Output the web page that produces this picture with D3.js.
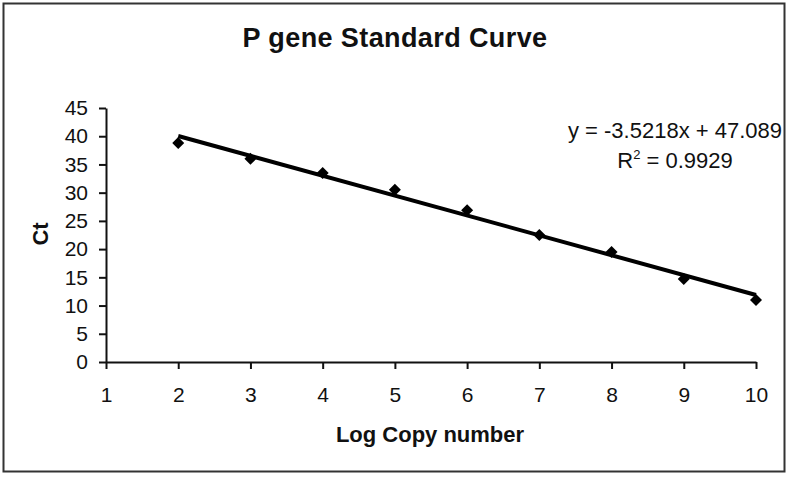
<!DOCTYPE html>
<html lang="en">
<head>
  <meta charset="UTF-8" />
  <title>P gene Standard Curve</title>
  <style>
    body { margin: 0; background: #fff; }
    svg { display: block; }
    text { font-family: "Liberation Sans", Arial, sans-serif; fill: #111; }
  </style>
  <script src="https://cdn.jsdelivr.net/npm/d3@7"></script>
</head>
<body>
  <script>
    const logCopy = [2, 3, 4, 5, 6, 7, 8, 9, 10];
    const ct = [38.8, 36.0, 33.5, 30.5, 26.9, 22.5, 19.5, 14.7, 11.0];
    const slope = -3.5218;
    const intercept = 47.089;
    const xTicks = [1, 2, 3, 4, 5, 6, 7, 8, 9, 10];
    const yTicks = [0, 5, 10, 15, 20, 25, 30, 35, 40, 45];

    const W = 789, H = 482;
    const svg = d3.select("body").append("svg")
      .attr("width", W).attr("height", H);

    // outer frame
    svg.append("rect")
      .attr("x", 3.5).attr("y", 3.5)
      .attr("width", 781).attr("height", 468)
      .attr("fill", "none").attr("stroke", "#333").attr("stroke-width", 2);

    const x = d3.scaleLinear().domain([1, 10]).range([106, 756]);
    const y = d3.scaleLinear().domain([0, 45]).range([362, 108]);

    const xAxis = svg.append("g")
      .attr("transform", `translate(0,${y(0)})`)
      .call(d3.axisBottom(x).tickValues(xTicks).tickSize(7).tickSizeOuter(0).tickPadding(18));
    const yAxis = svg.append("g")
      .attr("transform", `translate(${x(1)},0)`)
      .call(d3.axisLeft(y).tickValues(yTicks).tickSize(7).tickSizeOuter(0).tickPadding(11));

    [xAxis, yAxis].forEach(g => {
      g.select(".domain").attr("stroke", "#111").attr("stroke-width", 2);
      g.selectAll(".tick line").attr("stroke", "#111").attr("stroke-width", 2);
      g.selectAll(".tick text")
        .attr("font-size", 21).attr("fill", "#222");
    });

    // trend line
    const fit = d3.line().x(d => x(d)).y(d => y(slope * d + intercept));
    svg.append("path")
      .attr("d", fit([logCopy[0], logCopy[logCopy.length - 1]]))
      .attr("stroke", "#000").attr("stroke-width", 4).attr("fill", "none");

    // data points
    const diamond = d3.symbol().type(d3.symbolSquare).size(72);
    svg.selectAll(".pt").data(logCopy).enter().append("path")
      .attr("class", "pt")
      .attr("d", diamond)
      .attr("transform", (d, i) => `translate(${x(d)},${y(ct[i])}) rotate(45)`)
      .attr("fill", "#000");

    // title
    svg.append("text")
      .attr("x", 395).attr("y", 47)
      .attr("text-anchor", "middle")
      .attr("font-size", 27).attr("font-weight", "bold")
      .attr("letter-spacing", 0.4)
      .text("P gene Standard Curve");

    // axis titles
    svg.append("text")
      .attr("x", 430).attr("y", 442)
      .attr("text-anchor", "middle")
      .attr("font-size", 22).attr("font-weight", "bold")
      .text("Log Copy number");
    svg.append("text")
      .attr("transform", "translate(48,234) rotate(-90)")
      .attr("text-anchor", "middle")
      .attr("font-size", 22).attr("font-weight", "bold")
      .text("Ct");

    // equation
    svg.append("text")
      .attr("x", 782).attr("y", 138)
      .attr("text-anchor", "end")
      .attr("font-size", 22)
      .text(`y = ${slope}x + ${intercept}`);
    const r2 = svg.append("text")
      .attr("x", 675).attr("y", 168)
      .attr("text-anchor", "middle")
      .attr("font-size", 22);
    r2.append("tspan").text("R");
    r2.append("tspan").attr("font-size", 13).attr("dy", -9).text("2");
    r2.append("tspan").attr("dy", 9).text(" = 0.9929");
  </script>
</body>
</html>
